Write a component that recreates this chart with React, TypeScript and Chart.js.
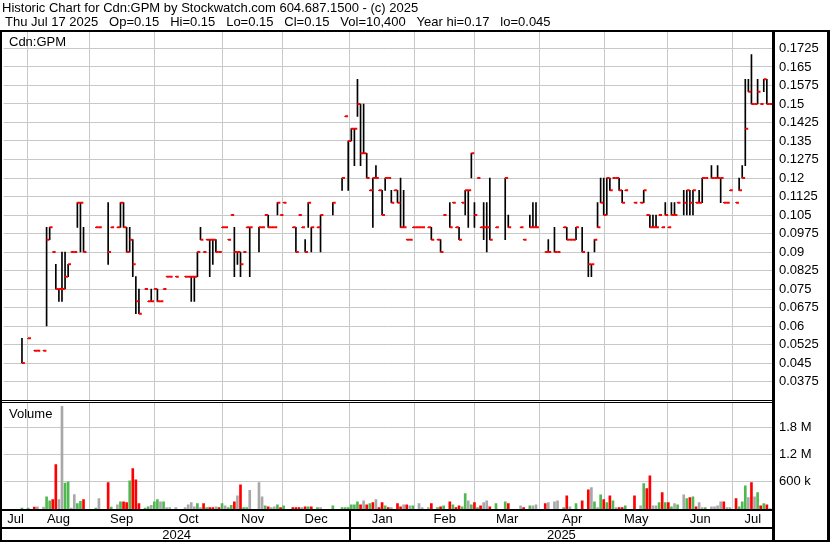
import React, { useEffect, useRef } from 'react';
import { Chart, registerables } from 'chart.js';

Chart.register(...registerables);

const W = 830;
const H = 543;

const titleLine1 = 'Historic Chart for Cdn:GPM by Stockwatch.com 604.687.1500 - (c) 2025';
const titleLine2 = 'Thu Jul 17 2025   Op=0.15   Hi=0.15   Lo=0.15   Cl=0.15   Vol=10,400   Year hi=0.17   lo=0.045';
const symbolLabel = 'Cdn:GPM';
const volumeLabel = 'Volume';

// trading-day index of each price bar (0 = Jul 17 2024 .. 250 = Jul 17 2025)
const days = [
  6, 8, 10, 11, 13, 14, 15, 16, 17, 18, 19, 20, 21, 22, 23, 24, 25, 26,
  30, 31, 34, 35, 37, 38, 39, 40, 41, 42, 43, 44,
  46, 47, 48, 49, 50, 51, 52, 53, 54, 56, 59, 60, 61, 62, 63, 64, 65, 66, 67, 68, 69, 70,
  71, 72, 73, 74, 75, 76, 77, 78, 79, 80, 83, 84, 85, 86, 87, 88, 89, 90,
  91, 94, 95, 96, 97, 98, 99, 100, 102, 103, 107, 110, 111, 112,
  113, 114, 115, 116, 117, 118, 119, 120, 121, 122, 123, 124, 125, 126, 127, 128, 129, 130, 131, 132, 133,
  134, 135, 136, 138, 139, 141, 142, 143, 145, 146, 147, 148, 149, 150, 151, 152,
  153, 154, 155, 156, 157, 158, 160, 163, 164, 168, 169, 171, 172, 173,
  176, 177, 179, 180, 182, 183, 184, 185, 186, 188, 190, 191, 192, 193, 194, 195,
  196, 197, 198, 199, 200, 201, 202, 205, 207, 208, 209, 210, 211, 212, 213, 214, 215,
  216, 217, 218, 219, 221, 222, 223, 224, 225, 226, 227, 228, 230, 231, 232, 233, 234, 235, 236,
  238, 239, 240, 241, 242, 243, 244, 245, 246, 247, 248, 249,
];

const highs = [
  0.055, 0.055, 0.05, 0.05, 0.05, 0.10, 0.10, 0.09, 0.085, 0.075, 0.09, 0.09, 0.085, 0.09, 0.09, 0.11, 0.11, 0.10,
  0.10, 0.10, 0.11, 0.10, 0.10, 0.11, 0.11, 0.10, 0.10, 0.095, 0.08, 0.075,
  0.075, 0.07, 0.075, 0.075, 0.075, 0.07, 0.075, 0.08, 0.08, 0.08, 0.08, 0.08, 0.08, 0.08, 0.09, 0.10, 0.09, 0.095, 0.095, 0.095, 0.095, 0.09,
  0.10, 0.10, 0.095, 0.105, 0.10, 0.09, 0.09, 0.09, 0.10, 0.10, 0.10, 0.10, 0.105, 0.105, 0.10, 0.10, 0.11, 0.105,
  0.11, 0.10, 0.10, 0.105, 0.10, 0.095, 0.11, 0.10, 0.10, 0.105, 0.11, 0.12, 0.145, 0.135,
  0.14, 0.14, 0.16, 0.15, 0.15, 0.13, 0.115, 0.12, 0.125, 0.115, 0.115, 0.12, 0.12, 0.115, 0.115, 0.115, 0.12, 0.115, 0.095, 0.095, 0.10,
  0.10, 0.10, 0.10, 0.10, 0.10, 0.095, 0.095, 0.105, 0.11, 0.11, 0.10, 0.10, 0.11, 0.115, 0.115, 0.13,
  0.11, 0.12, 0.10, 0.11, 0.11, 0.12, 0.10, 0.12, 0.105, 0.10, 0.095, 0.105, 0.11, 0.11,
  0.09, 0.095, 0.10, 0.09, 0.10, 0.10, 0.095, 0.095, 0.10, 0.10, 0.09, 0.085, 0.095, 0.11, 0.12, 0.12,
  0.12, 0.12, 0.12, 0.12, 0.12, 0.115, 0.115, 0.11, 0.11, 0.115, 0.105, 0.105, 0.105, 0.105, 0.105, 0.10, 0.11,
  0.10, 0.11, 0.11, 0.11, 0.115, 0.115, 0.115, 0.115, 0.11, 0.115, 0.12, 0.12, 0.125, 0.12, 0.125, 0.12, 0.11, 0.11, 0.115,
  0.11, 0.12, 0.125, 0.16, 0.16, 0.17, 0.15, 0.16, 0.15, 0.16, 0.16, 0.15,
];

const lows = [
  0.045, 0.055, 0.05, 0.05, 0.05, 0.06, 0.095, 0.09, 0.075, 0.07, 0.07, 0.075, 0.08, 0.09, 0.09, 0.10, 0.09, 0.09,
  0.10, 0.10, 0.085, 0.10, 0.10, 0.10, 0.10, 0.09, 0.09, 0.08, 0.065, 0.065,
  0.075, 0.07, 0.07, 0.075, 0.07, 0.07, 0.075, 0.08, 0.08, 0.08, 0.08, 0.08, 0.07, 0.07, 0.08, 0.095, 0.09, 0.095, 0.08, 0.085, 0.09, 0.09,
  0.10, 0.10, 0.095, 0.105, 0.08, 0.085, 0.08, 0.09, 0.10, 0.08, 0.09, 0.10, 0.105, 0.10, 0.10, 0.10, 0.105, 0.105,
  0.11, 0.10, 0.09, 0.105, 0.10, 0.09, 0.10, 0.09, 0.10, 0.09, 0.105, 0.115, 0.145, 0.115,
  0.135, 0.125, 0.145, 0.125, 0.13, 0.12, 0.115, 0.10, 0.12, 0.115, 0.105, 0.115, 0.12, 0.11, 0.115, 0.11, 0.10, 0.10, 0.095, 0.095, 0.10,
  0.10, 0.10, 0.10, 0.10, 0.095, 0.095, 0.09, 0.105, 0.10, 0.11, 0.10, 0.095, 0.11, 0.105, 0.10, 0.12,
  0.10, 0.12, 0.10, 0.095, 0.09, 0.095, 0.10, 0.095, 0.10, 0.10, 0.095, 0.10, 0.10, 0.10,
  0.09, 0.09, 0.09, 0.09, 0.10, 0.095, 0.095, 0.095, 0.095, 0.09, 0.08, 0.08, 0.09, 0.10, 0.11, 0.105,
  0.105, 0.115, 0.12, 0.12, 0.115, 0.11, 0.115, 0.11, 0.11, 0.11, 0.105, 0.10, 0.10, 0.10, 0.105, 0.10, 0.105,
  0.10, 0.105, 0.105, 0.11, 0.105, 0.105, 0.105, 0.105, 0.11, 0.11, 0.11, 0.12, 0.12, 0.12, 0.12, 0.11, 0.11, 0.11, 0.115,
  0.11, 0.115, 0.12, 0.125, 0.155, 0.15, 0.15, 0.15, 0.15, 0.155, 0.15, 0.15,
];

const closes = [
  0.045, 0.055, 0.05, 0.05, 0.05, 0.095, 0.10, 0.09, 0.075, 0.075, 0.075, 0.08, 0.085, 0.09, 0.09, 0.11, 0.11, 0.09,
  0.10, 0.10, 0.09, 0.10, 0.10, 0.11, 0.10, 0.09, 0.095, 0.085, 0.07, 0.065,
  0.075, 0.07, 0.07, 0.075, 0.07, 0.07, 0.075, 0.08, 0.08, 0.08, 0.08, 0.08, 0.08, 0.08, 0.09, 0.095, 0.09, 0.095, 0.095, 0.095, 0.09, 0.09,
  0.10, 0.10, 0.095, 0.105, 0.09, 0.09, 0.085, 0.09, 0.10, 0.10, 0.10, 0.10, 0.105, 0.10, 0.10, 0.10, 0.11, 0.105,
  0.11, 0.10, 0.09, 0.105, 0.10, 0.09, 0.11, 0.10, 0.10, 0.105, 0.11, 0.12, 0.145, 0.135,
  0.14, 0.14, 0.15, 0.13, 0.13, 0.12, 0.115, 0.12, 0.12, 0.115, 0.105, 0.12, 0.12, 0.11, 0.115, 0.11, 0.10, 0.10, 0.095, 0.095, 0.10,
  0.10, 0.10, 0.10, 0.10, 0.095, 0.095, 0.09, 0.105, 0.10, 0.11, 0.10, 0.095, 0.11, 0.115, 0.115, 0.13,
  0.105, 0.12, 0.10, 0.10, 0.10, 0.095, 0.10, 0.12, 0.10, 0.10, 0.095, 0.10, 0.10, 0.10,
  0.09, 0.09, 0.09, 0.09, 0.10, 0.095, 0.095, 0.095, 0.10, 0.09, 0.085, 0.085, 0.095, 0.10, 0.11, 0.105,
  0.12, 0.115, 0.12, 0.12, 0.115, 0.11, 0.115, 0.11, 0.11, 0.115, 0.105, 0.10, 0.10, 0.10, 0.105, 0.10, 0.105,
  0.10, 0.105, 0.105, 0.11, 0.11, 0.115, 0.11, 0.115, 0.11, 0.11, 0.12, 0.12, 0.12, 0.12, 0.12, 0.12, 0.11, 0.11, 0.115,
  0.11, 0.115, 0.12, 0.14, 0.155, 0.15, 0.15, 0.155, 0.15, 0.16, 0.15, 0.15,
];

// volume bars: trading-day index, volume (thousands of shares), direction u/d/n
const volDays = [
  6, 8, 10, 11, 13, 14, 15, 16, 17, 18, 19, 20, 21, 22, 23, 24, 25, 26,
  30, 31, 34, 35, 37, 38, 39, 40, 41, 42, 43, 44,
  46, 47, 48, 49, 50, 51, 52, 53, 54, 56, 59, 60, 61, 62, 63, 64, 65, 66, 67, 68, 69, 70,
  71, 72, 73, 74, 75, 76, 77, 78, 79, 80, 83, 84, 85, 86, 87, 88, 89, 90,
  91, 94, 95, 96, 97, 98, 99, 100, 102, 103, 107, 110, 111, 112,
  113, 114, 115, 116, 117, 118, 119, 120, 121, 122, 123, 124, 125, 126, 128, 129, 130, 131, 132, 133,
  135, 136, 138, 139, 141, 142, 143, 145, 146, 147, 148, 149, 150, 151, 152,
  153, 154, 155, 156, 157, 158, 160, 163, 164, 168, 169, 171, 172, 173,
  176, 177, 179, 180, 182, 183, 184, 186, 188, 190, 191, 192, 193, 194, 195,
  196, 197, 198, 199, 200, 201, 202, 205, 207, 208, 209, 210, 211, 212, 213, 214, 215,
  216, 217, 218, 219, 221, 222, 223, 224, 225, 226, 227, 228, 230, 231, 232, 233, 234, 235, 236,
  238, 239, 240, 241, 242, 243, 244, 245, 246, 247, 248, 249,
];

const volumesK = [
  20, 20, 40, 50, 40, 270, 180, 210, 980, 210, 2260, 570, 600, 20, 320, 120, 170, 210,
  20, 230, 580, 40, 90, 160, 160, 140, 620, 890, 640, 120,
  20, 50, 80, 160, 210, 160, 160, 30, 30, 30, 30, 90, 140, 50, 120, 30, 120, 30, 30, 30, 50, 30,
  120, 70, 30, 80, 160, 290, 530, 30, 30, 410, 580, 270, 70, 50, 30, 50, 90, 30,
  70, 30, 30, 30, 30, 50, 50, 50, 30, 30, 70, 30, 30, 30,
  90, 90, 160, 90, 180, 90, 120, 140, 210, 30, 140, 70, 30, 30, 120, 50, 90, 90, 70, 70,
  120, 30, 30, 120, 30, 50, 70, 160, 90, 30, 70, 50, 340, 180, 90,
  140, 30, 70, 140, 180, 50, 120, 160, 120, 70, 30, 70, 70, 90,
  120, 140, 160, 180, 30, 290, 50, 120, 180, 420, 470, 160, 30, 310, 210,
  140, 290, 180, 30, 30, 30, 70, 290, 70, 560, 450, 730, 70, 70, 140, 360, 140,
  140, 50, 120, 90, 310, 230, 250, 270, 50, 140, 30, 30, 50, 50, 70, 160, 160, 30, 30,
  230, 50, 160, 510, 250, 580, 270, 360, 70, 120, 90, 10,
];

const volDir = [
  'u', 'u', 'd', 'n', 'n', 'u', 'u', 'd', 'd', 'n', 'n', 'u', 'u', 'n', 'n', 'u', 'u', 'd',
  'u', 'n', 'd', 'u', 'n', 'u', 'd', 'd', 'u', 'd', 'd', 'd',
  'u', 'u', 'n', 'u', 'u', 'n', 'u', 'n', 'n', 'n', 'n', 'n', 'n', 'n', 'u', 'n', 'd', 'u', 'd', 'd', 'n', 'd',
  'u', 'n', 'u', 'u', 'd', 'n', 'd', 'u', 'u', 'n', 'n', 'n', 'u', 'd', 'n', 'n', 'u', 'd',
  'u', 'd', 'd', 'd', 'n', 'd', 'u', 'd', 'u', 'n', 'u', 'u', 'u', 'u',
  'u', 'u', 'u', 'd', 'n', 'd', 'u', 'd', 'n', 'd', 'd', 'u', 'd', 'n', 'd', 'd', 'n', 'd', 'n', 'u',
  'n', 'n', 'n', 'd', 'u', 'd', 'u', 'd', 'u', 'd', 'd', 'u', 'u', 'n', 'u',
  'd', 'u', 'd', 'n', 'n', 'd', 'u', 'u', 'd', 'n', 'd', 'u', 'n', 'n',
  'd', 'n', 'n', 'n', 'u', 'd', 'n', 'u', 'd', 'd', 'n', 'u', 'n', 'u', 'd',
  'u', 'd', 'u', 'n', 'd', 'd', 'u', 'd', 'n', 'u', 'd', 'd', 'n', 'n', 'u', 'd', 'u',
  'd', 'u', 'n', 'u', 'n', 'u', 'd', 'u', 'd', 'n', 'n', 'u', 'n', 'n', 'n', 'n', 'd', 'n', 'n',
  'd', 'u', 'u', 'u', 'n', 'd', 'n', 'u', 'd', 'u', 'd', 'n',
];

const priceTicks = [0.1725, 0.165, 0.1575, 0.15, 0.1425, 0.135, 0.1275, 0.12, 0.1125, 0.105, 0.0975, 0.09, 0.0825, 0.075, 0.0675, 0.06, 0.0525, 0.045, 0.0375];
const volTicksK = [600, 1200, 1800];
const volTickLabels = ['600 k', '1.2 M', '1.8 M'];

// month boundaries (trading-day index) Aug 1 2024 ... Jul 1 2025
const monthStarts = [7.85, 27.85, 48.9, 71.3, 90.6, 112.5, 133.6, 153.1, 174.2, 195.3, 215.8, 236.9];
const monthLabels = ['Jul', 'Aug', 'Sep', 'Oct', 'Nov', 'Dec', 'Jan', 'Feb', 'Mar', 'Apr', 'May', 'Jun', 'Jul'];
const yearLabels = ['2024', '2025'];
const yearBreakMonth = 5; // index in monthStarts where 2025 begins

const DAY_MIN = 0;
const DAY_MAX = 250;
const PRICE_MIN = 0.03;
const PRICE_MAX = 0.18;
const VOL_MAX_K = 2400;

const FONT = '"Liberation Sans", Arial, Helvetica, sans-serif';
const GRID = '#c8c8c8';
const dirColor: Record<string, string> = { u: '#50b850', d: '#ff0000', n: '#a8a8a8' };

const framePlugin = {
  id: 'swFrame',
  afterDraw(chart: any) {
    const { ctx, scales } = chart;
    const xs = scales.x;
    const area = chart.chartArea;
    ctx.save();
    ctx.fillStyle = '#000';
    ctx.font = `13px ${FONT}`;
    ctx.textAlign = 'left';
    ctx.textBaseline = 'alphabetic';
    ctx.fillText(titleLine1, 2, 12);
    ctx.fillText(titleLine2, 5, 26);
    ctx.fillText(symbolLabel, 9, 46);
    ctx.fillText(volumeLabel, 9, 418);

    const right = Math.round(area.right);
    // frame lines
    ctx.fillRect(0, 30, W, 2);
    ctx.fillRect(0, 30, 2, 512);
    ctx.fillRect(right - 1, 30, 3, 512);
    ctx.fillRect(W - 3, 30, 3, 512);
    ctx.fillRect(0, 540, W, 2);
    // separator between price and volume panels
    const sep = Math.round(scales.yv.top);
    ctx.fillRect(2, sep, right - 2, 1);
    ctx.fillStyle = '#fff';
    ctx.fillRect(2, sep + 1, right - 3, 1);
    ctx.fillStyle = '#000';
    ctx.fillRect(2, sep + 2, right - 2, 1);
    // axis line and label rows
    const bottom = Math.round(area.bottom);
    ctx.fillRect(2, bottom, right - 2, 2);
    ctx.fillRect(2, 527, right - 2, 2);
    const yb = Math.round(xs.getPixelForValue(monthStarts[yearBreakMonth]));
    ctx.fillRect(yb - 1, bottom, 2, 540 - bottom);

    // month labels
    const bounds = [DAY_MIN, ...monthStarts, DAY_MAX];
    ctx.textAlign = 'center';
    for (let i = 0; i < monthLabels.length; i++) {
      const a = xs.getPixelForValue(bounds[i]);
      const b = xs.getPixelForValue(bounds[i + 1]);
      ctx.fillText(monthLabels[i], (a + b) / 2, 523);
    }
    // year labels
    const yBounds = [DAY_MIN, monthStarts[yearBreakMonth], DAY_MAX];
    for (let i = 0; i < yearLabels.length; i++) {
      const a = xs.getPixelForValue(yBounds[i]);
      const b = xs.getPixelForValue(yBounds[i + 1]);
      ctx.fillText(yearLabels[i], (a + b) / 2, 539);
    }
    ctx.restore();
  },
};

export default function App() {
  const ref = useRef<HTMLCanvasElement | null>(null);

  useEffect(() => {
    document.body.style.margin = '0';
    const canvas = ref.current;
    if (!canvas) return;

    const rangeData = days.map((d, i) => ({ x: d, y: [lows[i], highs[i]] }));
    const closeData = days.map((d, i) => ({ x: d + 0.45, y: closes[i] }));
    const volData = volDays.map((d, i) => ({ x: d, y: volumesK[i] }));
    const volColors = volDir.map((c) => dirColor[c]);

    const chart = new Chart(canvas, {
      type: 'bar',
      data: {
        datasets: [
          {
            type: 'bar',
            data: rangeData as any,
            xAxisID: 'x',
            yAxisID: 'y',
            backgroundColor: '#000',
            barThickness: 1,
            grouped: false,
            order: 2,
          } as any,
          {
            type: 'scatter',
            data: closeData,
            xAxisID: 'x',
            yAxisID: 'y',
            pointStyle: 'line',
            pointRadius: 1.5,
            pointHoverRadius: 1.5,
            pointBorderWidth: 2,
            borderColor: '#ff0000',
            backgroundColor: '#ff0000',
            order: 1,
          } as any,
          {
            type: 'bar',
            data: volData,
            xAxisID: 'x',
            yAxisID: 'yv',
            backgroundColor: volColors,
            barThickness: 2,
            grouped: false,
            order: 3,
          } as any,
        ],
      },
      options: {
        responsive: false,
        animation: false,
        devicePixelRatio: 1,
        events: [],
        layout: { padding: { top: 30, left: 2, right: 0, bottom: 0 } },
        plugins: {
          legend: { display: false },
          tooltip: { enabled: false },
          title: { display: false },
        },
        scales: {
          x: {
            type: 'linear',
            position: 'bottom',
            min: DAY_MIN,
            max: DAY_MAX,
            offset: false,
            afterBuildTicks: (s: any) => {
              s.ticks = monthStarts.map((v) => ({ value: v }));
            },
            afterFit: (s: any) => {
              s.height = 34;
            },
            ticks: { display: false, autoSkip: false },
            grid: { color: GRID, lineWidth: 1, drawTicks: false, offset: false },
            border: { display: false },
          },
          y: {
            type: 'linear',
            position: 'right',
            stack: 'panels',
            stackWeight: 370,
            min: PRICE_MIN,
            max: PRICE_MAX,
            afterBuildTicks: (s: any) => {
              s.ticks = priceTicks.map((v) => ({ value: v }));
            },
            afterFit: (s: any) => {
              s.width = 57;
            },
            ticks: {
              autoSkip: false,
              padding: 6,
              color: '#000',
              font: { family: FONT, size: 13 },
              callback: (v: any) => String(v),
            },
            grid: { color: GRID, lineWidth: 1, drawTicks: false },
            border: { display: false },
          },
          yv: {
            type: 'linear',
            position: 'right',
            stack: 'panels',
            stackWeight: 109,
            min: 0,
            max: VOL_MAX_K,
            afterBuildTicks: (s: any) => {
              s.ticks = volTicksK.map((v) => ({ value: v }));
            },
            afterFit: (s: any) => {
              s.width = 57;
            },
            ticks: {
              autoSkip: false,
              padding: 6,
              color: '#000',
              font: { family: FONT, size: 13 },
              callback: (v: any) => volTickLabels[volTicksK.indexOf(Number(v))] ?? '',
            },
            grid: { color: GRID, lineWidth: 1, drawTicks: false },
            border: { display: false },
          },
        },
      } as any,
      plugins: [framePlugin],
    });

    return () => chart.destroy();
  }, []);

  return (
    <div style={{ width: W, height: H, background: '#fff', overflow: 'hidden' }}>
      <canvas ref={ref} width={W} height={H} style={{ display: 'block', width: W, height: H }} />
    </div>
  );
}
